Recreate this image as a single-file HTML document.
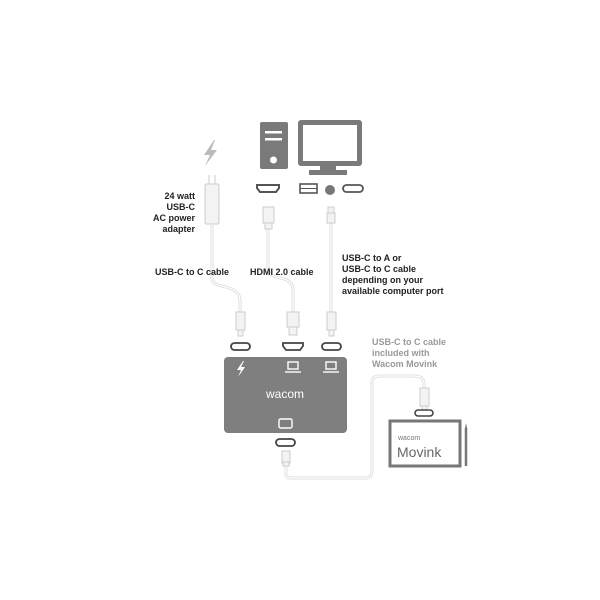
<!DOCTYPE html>
<html><head><style>
html,body{margin:0;padding:0;background:#fff;}
svg{display:block}
text{font-family:"Liberation Sans",sans-serif;font-weight:bold;font-size:9px;fill:#222}
</style></head><body>
<svg width="600" height="600" viewBox="0 0 600 600">
<path d="M214,140 L204,155 L210,155 L205,166 L217,150 L211,150 L215,140 Z" fill="#bbb"/>
<rect x="260" y="122" width="28" height="47" rx="2" fill="#7a7a7a"/>
<rect x="265" y="131" width="17" height="2.5" fill="#fff"/>
<rect x="265" y="138" width="17" height="2.5" fill="#fff"/>
<circle cx="273.5" cy="160" r="3.5" fill="#fff"/>
<rect x="298" y="120" width="64" height="46" rx="3" fill="#7a7a7a"/>
<rect x="303" y="125" width="54" height="36" fill="#fff"/>
<rect x="320" y="166" width="16" height="5" fill="#7a7a7a"/>
<rect x="309" y="170" width="38" height="5" fill="#7a7a7a"/>
<path d="M257,185 h22 v3 l-3,4 h-16 l-3,-4 z" fill="#fff" stroke="#555" stroke-width="2"/>
<rect x="300" y="184" width="17" height="9" fill="#fff" stroke="#555" stroke-width="1.6"/>
<line x1="300" y1="188.5" x2="317" y2="188.5" stroke="#555" stroke-width="1"/>
<circle cx="330" cy="190" r="5" fill="#777"/>
<rect x="343" y="185" width="20" height="7" rx="3.5" fill="#fff" stroke="#555" stroke-width="1.8"/>
<g fill="none" stroke="#ddd" stroke-width="3">
<path d="M212,225 V278 Q212,284 222,286 Q240,290 240,300 V312"/>
<path d="M268,228 V268 Q268,276 280,278 Q293,280 293,290 V312"/>
<path d="M331,218 V312"/>
<path d="M286,462 V475 Q286,478 292,478 H366 Q372,478 372,470 V382 Q372,376 380,376 H414 Q424,376 424,384 V390"/>
</g>
<g fill="none" stroke="#fff" stroke-width="1.2">
<path d="M212,225 V278 Q212,284 222,286 Q240,290 240,300 V312"/>
<path d="M268,228 V268 Q268,276 280,278 Q293,280 293,290 V312"/>
<path d="M331,218 V312"/>
<path d="M286,462 V475 Q286,478 292,478 H366 Q372,478 372,470 V382 Q372,376 380,376 H414 Q424,376 424,384 V390"/>
</g>
<g fill="#f3f3f3" stroke="#ccc" stroke-width="1">
<line x1="209" y1="175" x2="209" y2="185"/><line x1="215" y1="175" x2="215" y2="185"/>
<rect x="205" y="184" width="14" height="40" rx="1"/>
<rect x="263" y="207" width="11" height="16"/><rect x="265" y="223" width="7" height="6"/>
<rect x="328" y="207" width="6" height="6"/><rect x="327" y="213" width="8" height="10"/>
<rect x="236" y="312" width="9" height="18"/><rect x="238" y="330" width="5" height="6"/>
<rect x="287" y="312" width="12" height="15"/><rect x="289" y="327" width="8" height="8"/>
<rect x="327" y="312" width="9" height="18"/><rect x="329" y="330" width="5" height="6"/>
<rect x="420" y="388" width="9" height="18"/><rect x="422" y="406" width="5" height="5"/>
<rect x="282" y="451" width="8" height="12"/><rect x="283" y="462" width="6" height="4"/>
</g>
<rect x="231" y="343" width="19" height="7" rx="3.5" fill="#fff" stroke="#444" stroke-width="1.8"/>
<path d="M283,343 h20 v3 l-3,4 h-14 l-3,-4 z" fill="#fff" stroke="#444" stroke-width="1.8"/>
<rect x="322" y="343" width="19" height="7" rx="3.5" fill="#fff" stroke="#444" stroke-width="1.8"/>
<rect x="224" y="357" width="123" height="76" rx="4" fill="#7f7f7f"/>
<path d="M243,361 L237,370 L241,370 L238,377 L245,367 L241,367 L244,361 Z" fill="#fff"/>
<g fill="none" stroke="#fff" stroke-width="1.4">
<rect x="288" y="362" width="10" height="7"/><line x1="285" y1="372" x2="301" y2="372"/>
<rect x="326" y="362" width="10" height="7"/><line x1="323" y1="372" x2="339" y2="372"/>
<rect x="279" y="419" width="13" height="9" rx="1.5"/>
</g>
<text x="285" y="398" text-anchor="middle" style="fill:#fff;font-weight:normal;font-size:12px">wacom</text>
<rect x="276" y="439" width="19" height="7" rx="3.5" fill="#fff" stroke="#444" stroke-width="1.8"/>
<rect x="415" y="410" width="18" height="6" rx="3" fill="#fff" stroke="#444" stroke-width="1.6"/>
<rect x="390" y="421" width="70" height="45" fill="#fff" stroke="#777" stroke-width="3"/>
<text x="398" y="440" style="fill:#777;font-weight:normal;font-size:7px">wacom</text>
<text x="397" y="457" style="fill:#666;font-weight:normal;font-size:14px">Movink</text>
<line x1="466" y1="428" x2="466" y2="466" stroke="#777" stroke-width="2.5"/>
<path d="M465,428 L466,423 L467,428 Z" fill="#777"/>
<text x="195" y="199" text-anchor="end">24 watt</text>
<text x="195" y="210" text-anchor="end">USB-C</text>
<text x="195" y="221" text-anchor="end">AC power</text>
<text x="195" y="232" text-anchor="end">adapter</text>
<text x="155" y="275">USB-C to C cable</text>
<text x="250" y="275">HDMI 2.0 cable</text>
<text x="342" y="261">USB-C to A or</text>
<text x="342" y="272">USB-C to C cable</text>
<text x="342" y="283">depending on your</text>
<text x="342" y="294">available computer port</text>
<text x="372" y="345" style="fill:#999">USB-C to C cable</text>
<text x="372" y="356" style="fill:#999">included with</text>
<text x="372" y="367" style="fill:#999">Wacom Movink</text>
</svg>
</body></html>
